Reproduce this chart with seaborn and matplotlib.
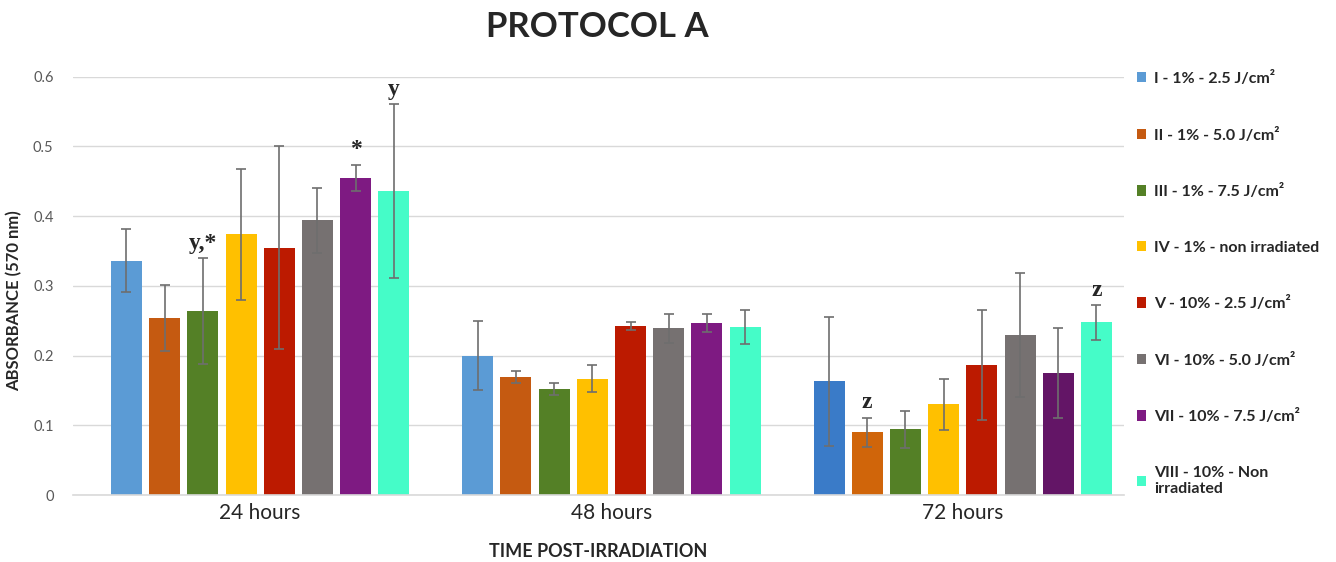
import numpy as np
import pandas as pd
import matplotlib
matplotlib.use("Agg")
import matplotlib.pyplot as plt
import seaborn as sns

# data
times = ["24 hours", "48 hours", "72 hours"]
groups = ["I - 1% - 2.5 J/cm²", "II - 1% - 5.0 J/cm²", "III - 1% - 7.5 J/cm²",
          "IV - 1% - non irradiated", "V - 10% - 2.5 J/cm²", "VI - 10% - 5.0 J/cm²",
          "VII - 10% - 7.5 J/cm²", "VIII - 10% - Non\nirradiated"]
vals_24 = [0.336, 0.254, 0.264, 0.374, 0.355, 0.394, 0.455, 0.436]
vals_48 = [0.200, 0.169, 0.152, 0.167, 0.242, 0.239, 0.247, 0.241]
vals_72 = [0.163, 0.090, 0.094, 0.130, 0.187, 0.230, 0.175, 0.248]
err_24 = [0.045, 0.047, 0.076, 0.094, 0.145, 0.047, 0.019, 0.125]
err_48 = [0.050, 0.009, 0.008, 0.019, 0.006, 0.021, 0.013, 0.025]
err_72 = [0.093, 0.021, 0.027, 0.037, 0.079, 0.089, 0.064, 0.025]
colors = ["#5B9BD5", "#C55A11", "#548026", "#FFC000", "#BC1A00", "#767171", "#7E1A82", "#45FCC8"]
# 72h bars I and VII are drawn in a darker shade in the original
colors_72 = ["#3A7BC8", "#D0650A", "#548026", "#FFC000", "#BC1A00", "#767171", "#631566", "#45FCC8"]
# significance letters: (time index, group index, text)
marks = [(0, 2, "y,*"), (0, 6, "*"), (0, 7, "y"), (2, 1, "z"), (2, 7, "z")]
yticks = [0, 0.1, 0.2, 0.3, 0.4, 0.5, 0.6]
ytick_labels = ["0", "0.1", "0.2", "0.3", "0.4", "0.5", "0.6"]

vals = [vals_24, vals_48, vals_72]
errs = [err_24, err_48, err_72]
rows = []
for ti, t in enumerate(times):
    for gi, g in enumerate(groups):
        rows.append({"time": t, "group": g, "value": vals[ti][gi], "err": errs[ti][gi]})
df = pd.DataFrame(rows)

sns.set_style("white")
plt.rcParams['font.family'] = ['Lato', 'DejaVu Sans']

fig = plt.figure(figsize=(13.36, 5.62), dpi=100)
ax = fig.add_axes([0.0546, 0.1192, 0.7867, 0.7443])

sns.barplot(data=df, x="time", y="value", hue="group", palette=colors, saturation=1,
            width=0.87, gap=0.19, errorbar=None, linewidth=0, ax=ax)

bar_conts = list(ax.containers)
for gi, cont in enumerate(bar_conts):
    bars = list(cont.patches)
    bars[2].set_facecolor(colors_72[gi])
    xs = [b.get_x() + b.get_width() / 2 for b in bars]
    hs = [b.get_height() for b in bars]
    e = [errs[ti][gi] for ti in range(len(times))]
    ax.errorbar(xs, hs, yerr=e, fmt="none", ecolor="#6e6e6e", elinewidth=1.2,
                capsize=3.5, capthick=1.2, zorder=3)

for ti, gi, txt in marks:
    b = bar_conts[gi].patches[ti]
    top = b.get_height() + errs[ti][gi]
    ax.annotate(txt, (b.get_x() + b.get_width() / 2, top), xytext=(0, 3),
                textcoords="offset points", ha="center", va="bottom",
                fontsize=17, fontweight="bold", family="Liberation Serif",
                annotation_clip=False)

ax.set_xlim(-0.533, 2.459)
ax.set_ylim(0, 0.6)
ax.set_yticks(yticks, ytick_labels)
ax.tick_params(axis="y", length=0, pad=14, labelsize=10.5, labelcolor="#595959")
ax.tick_params(axis="x", length=0, pad=6, labelsize=15, labelcolor="#262626")
ax.yaxis.grid(True, color="#d9d9d9", linewidth=1)
ax.set_axisbelow(True)
for s in ["top", "right", "left"]:
    ax.spines[s].set_visible(False)
ax.spines["bottom"].set_color("#d9d9d9")
ax.spines["bottom"].set_linewidth(1.2)

ax.set_xlabel("TIME POST-IRRADIATION", fontsize=13, fontweight="bold", labelpad=14)
ax.set_ylabel("ABSORBANCE (570 nm)", fontsize=12, fontweight="bold")
ax.yaxis.set_label_coords(-0.048, 0.464)
fig.suptitle("PROTOCOL A", x=0.447, y=0.98, fontsize=25, fontweight="bold")

handles, labels = ax.get_legend_handles_labels()
ax.legend(handles, labels, loc="upper left", bbox_to_anchor=(0.846, 0.885),
          bbox_transform=fig.transFigure, frameon=False,
          prop={"weight": "bold", "size": 11.5}, handlelength=0.6, handleheight=0.6,
          handletextpad=0.5, labelspacing=2.6, borderaxespad=0)

fig.savefig("out.png", dpi=100)
